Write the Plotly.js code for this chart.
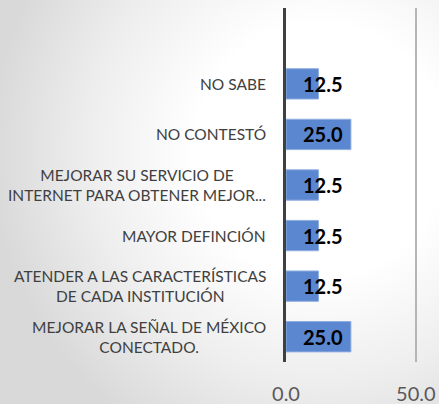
<!DOCTYPE html>
<html>
<head>
<meta charset="utf-8">
<script src="https://cdn.plot.ly/plotly-3.0.1.min.js"></script>
<style>
  html, body { margin: 0; padding: 0; }
  body {
    width: 439px; height: 404px; overflow: hidden;
    background: radial-gradient(ellipse 330px 330px at 320px 150px, #ffffff 0%, #ffffff 38%, #eeeeee 70%, #d9d9d9 100%);
  }
  #chart { width: 439px; height: 404px; }
</style>
</head>
<body>
<div id="chart"></div>
<script>
// categories listed bottom-to-top
const categories = [
  "MEJORAR LA SEÑAL DE MÉXICO<br>CONECTADO.",
  "ATENDER A LAS CARACTERÍSTICAS<br>DE CADA INSTITUCIÓN",
  "MAYOR DEFINCIÓN",
  "MEJORAR SU SERVICIO DE<br>INTERNET PARA OBTENER MEJOR...",
  "NO CONTESTÓ",
  "NO SABE"
];
const values = [25.0, 12.5, 12.5, 12.5, 25.0, 12.5];
const xTickVals = [0, 50];
const xTickText = ["0.0", "50.0"];

const trace = {
  type: "bar",
  orientation: "h",
  y: categories,
  x: values,
  marker: { color: "#5B86D0", line: { color: "#8FAEE0", width: 1 } },
  hoverinfo: "none"
};

const annotations = [];
categories.forEach((c, i) => {
  annotations.push({
    xref: "paper", yref: "y", x: 0, y: c,
    xanchor: "right", yanchor: "middle", xshift: -18,
    align: "center", showarrow: false, text: c,
    font: { family: "Lato, sans-serif", size: 15.5, color: "#404040" }
  });
  annotations.push({
    xref: "x", yref: "y", x: 0, y: c,
    xanchor: "left", yanchor: "middle", xshift: 15,
    showarrow: false, text: values[i].toFixed(1),
    font: { family: "Lato, sans-serif", size: 20, color: "#000000", weight: "bold" }
  });
});

const layout = {
  width: 439, height: 404,
  margin: { l: 286, r: 18, t: 8, b: 42 },
  paper_bgcolor: "rgba(0,0,0,0)",
  plot_bgcolor: "rgba(0,0,0,0)",
  bargap: 0.4,
  showlegend: false,
  xaxis: {
    range: [0, 52],
    tickvals: xTickVals, ticktext: xTickText,
    showgrid: true, gridcolor: "#b5b5b5", gridwidth: 2,
    zeroline: false, showline: false,
    ticks: "outside", ticklen: 14, tickcolor: "rgba(0,0,0,0)",
    tickfont: { family: "Lato, sans-serif", size: 20, color: "#595959" },
    fixedrange: true
  },
  yaxis: {
    type: "category",
    range: [-0.5, 6.5],
    showticklabels: false,
    showgrid: false, zeroline: false,
    showline: true, linecolor: "#404040", linewidth: 3,
    ticks: "",
    fixedrange: true
  },
  annotations: annotations
};

Plotly.newPlot("chart", [trace], layout, { displayModeBar: false, staticPlot: true });
</script>
</body>
</html>
